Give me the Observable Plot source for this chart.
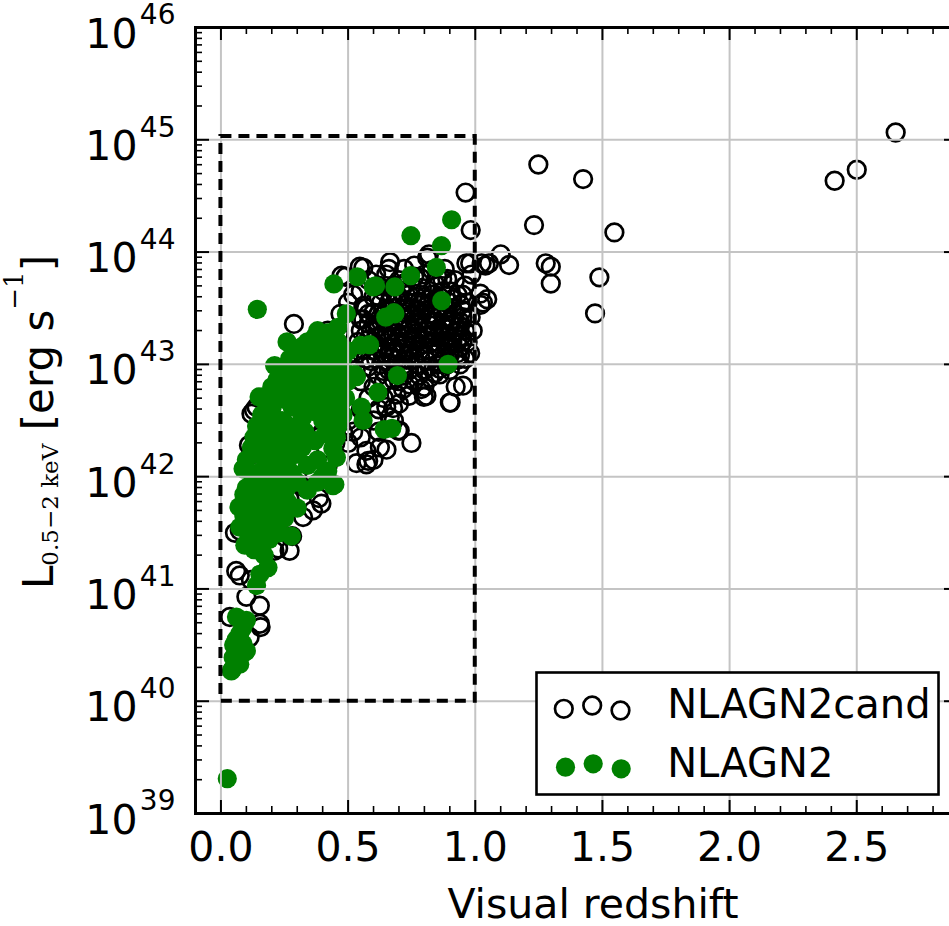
<!DOCTYPE html>
<html><head><meta charset="utf-8">
<script src="https://cdn.jsdelivr.net/npm/d3@7"></script>
<script src="https://cdn.jsdelivr.net/npm/@observablehq/plot@0.6"></script>
<style>body{margin:0;background:#fff;} svg{display:block}</style>
</head><body><div id="chart"></div>
<script>
// [visual redshift, log10 L(0.5-2 keV)]
const nlagn2cand = [
 [1.248,44.78],[1.424,44.65],[1.231,44.24],[1.547,44.175],[2.653,45.065],[2.5,44.733],[2.413,44.635],
 [0.962,44.53],[0.982,44.196],[1.1,43.98],[1.133,43.885],[1.04,43.88],[1.025,43.9],[0.98,43.9],
 [1.277,43.9],[1.297,43.87],[1.297,43.72],[1.488,43.775],[1.471,43.454],[1.02,43.63],[1.03,43.55],[1.054,43.9],
 [0.665,43.91],[0.811,43.95],[0.818,43.98],[0.83,43.84],[0.87,43.76],[0.85,43.79],[0.56,43.86],[0.49,43.78],
 [0.474,43.79],[0.546,43.87],[0.785,43.77],[0.89,43.76],[0.903,43.65],[0.943,43.53],[0.982,43.42],[1.021,43.53],
 [1.047,43.58],[0.965,43.9],[0.96,43.7],[0.93,43.62],[0.985,43.8],
 [0.287,43.36],[0.294,43.12],[0.464,43.28],[0.57,43.5],[0.55,43.4],[0.44,43.2],[0.42,43.3],[0.47,43.45],
 [0.5,43.55],[0.52,43.62],[0.6,43.6],[0.62,43.7],[0.58,43.75],[0.65,43.8],[0.7,43.75],[0.72,43.85],[0.76,43.88],
 [0.55,43.3],[0.58,43.22],[0.6,43.35],[0.62,43.45],[0.64,43.28],[0.66,43.38],[0.68,43.5],[0.7,43.32],[0.72,43.42],
 [0.74,43.55],[0.76,43.4],[0.78,43.48],[0.8,43.6],[0.82,43.45],[0.84,43.38],[0.86,43.52],[0.88,43.42],[0.9,43.32],
 [0.92,43.45],[0.94,43.38],[0.96,43.3],[0.97,43.55],
 [0.57,43.05],[0.6,43.12],[0.63,43.0],[0.65,43.15],[0.67,43.05],[0.69,43.2],[0.71,43.1],[0.73,43.25],[0.75,43.15],
 [0.77,43.28],[0.79,43.18],[0.81,43.3],[0.83,43.2],[0.85,43.1],[0.87,43.25],[0.89,43.15],[0.91,43.2],[0.93,43.1],
 [0.95,43.2],[0.96,43.05],
 [0.62,42.9],[0.66,42.95],[0.7,42.85],[0.74,42.95],[0.78,42.9],[0.82,42.98],[0.86,43.02],[0.9,42.95],[0.94,43.0],
 [0.76,43.05],[0.72,43.0],[0.8,43.08],[0.88,43.05],
 [0.63,43.55],[0.67,43.62],[0.71,43.65],[0.75,43.7],[0.79,43.68],[0.83,43.62],[0.87,43.65],[0.91,43.58],[0.69,43.58],
 [0.73,43.5],[0.77,43.6],[0.81,43.52],[0.85,43.58],
 [0.52,43.1],[0.54,43.2],[0.56,43.4],[0.58,43.45],[0.5,43.0],[0.53,42.95],[0.55,42.85],
 [0.56,43.52],[0.59,43.3],[0.61,43.18],[0.63,43.38],[0.65,43.48],[0.67,43.3],[0.69,43.42],[0.71,43.55],[0.73,43.35],
 [0.75,43.45],[0.77,43.35],[0.79,43.55],[0.81,43.4],[0.83,43.5],[0.85,43.42],[0.87,43.35],[0.89,43.5],[0.91,43.4],
 [0.93,43.3],[0.95,43.48],
 [0.58,42.98],[0.61,43.05],[0.64,43.1],[0.66,43.22],[0.68,43.12],[0.7,43.25],[0.72,43.18],[0.74,43.08],[0.76,43.22],
 [0.78,43.12],[0.8,43.22],[0.82,43.12],[0.84,43.28],[0.86,43.18],[0.88,43.32],[0.9,43.08],[0.92,43.28],[0.94,43.15],
 [0.6,42.8],[0.64,42.85],[0.68,42.92],[0.72,42.9],[0.76,42.85],[0.8,42.8],[0.84,42.92],[0.65,42.62],[0.7,42.65],
 [0.74,42.72],[0.68,42.5],[0.62,42.4],
 [0.45,43.0],[0.47,43.15],[0.43,42.95],[0.46,42.6],[0.42,42.5],[0.44,42.8],[0.48,42.4],[0.38,42.8],[0.36,42.5],[0.34,42.35],
 [0.55,43.65],[0.61,43.8],[0.64,43.65],[0.68,43.7],[0.72,43.72],[0.76,43.78],[0.8,43.8],[0.84,43.72],[0.88,43.85],
 [0.92,43.75],[0.95,43.62],[0.66,43.85],[0.98,43.1],[0.99,43.3],
 [0.59,43.03],[0.65,43.02],[0.69,43.0],[0.73,43.04],[0.77,43.0],[0.81,43.03],[0.85,43.0],[0.89,43.0],[0.93,43.04],
 [0.56,43.13],[0.62,43.15],[0.66,43.1],[0.7,43.14],[0.74,43.12],[0.78,43.16],[0.82,43.18],[0.86,43.14],[0.9,43.16],[0.94,43.08],
 [0.57,43.26],[0.61,43.24],[0.65,43.26],[0.69,43.28],[0.73,43.2],[0.77,43.24],[0.81,43.26],[0.85,43.24],[0.89,43.25],[0.93,43.22],[0.97,43.2],
 [0.58,43.36],[0.62,43.33],[0.66,43.34],[0.7,43.38],[0.74,43.32],[0.78,43.38],[0.82,43.35],[0.86,43.3],[0.9,43.38],[0.94,43.34],
 [0.6,43.46],[0.64,43.44],[0.67,43.44],[0.71,43.46],[0.75,43.5],[0.79,43.44],[0.83,43.44],[0.87,43.46],[0.91,43.5],[0.95,43.42],
 [0.62,43.6],[0.66,43.55],[0.7,43.6],[0.74,43.62],[0.78,43.56],[0.82,43.58],[0.86,43.6],[0.9,43.55],
 [0.64,42.94],[0.68,42.86],[0.72,42.95],[0.8,42.95],[0.86,42.96],
 [0.952,42.81],[0.9,42.66],[0.808,42.72],[0.788,42.78],[0.749,42.30],[0.703,42.41],[0.651,42.24],[0.579,42.14],
 [0.572,42.23],[0.625,42.26],[0.69,42.73],[0.716,42.78],[0.742,42.82],[0.821,42.88],[0.86,42.91],[0.88,43.21],
 [0.946,43.25],[0.677,42.61],[0.664,42.53],[0.923,42.80],[0.903,42.66],[0.798,42.71],[0.697,42.41],[0.533,42.12],
 [0.6,42.15],[0.572,42.11],[0.6,42.5],[0.62,42.6],[0.58,42.7],[0.64,42.7],[0.55,42.6],[0.52,42.4],[0.5,42.3],
 [0.55,42.35],[0.5,42.5],[0.48,42.7],
 [0.13,42.59],[0.14,42.62],[0.12,42.56],[0.284,42.29],[0.126,42.2],[0.11,42.28],[0.395,41.76],[0.362,41.7],
 [0.323,41.64],[0.27,41.34],[0.225,41.36],[0.21,41.34],[0.074,41.12],[0.06,41.16],[0.1,40.93],[0.153,40.85],
 [0.153,40.69],[0.035,40.75],[0.113,40.57],[0.074,41.52],[0.055,41.5],[0.156,40.66],[0.385,41.81],[0.28,41.47],
 [0.118,41.08],[0.3,42.0],[0.35,42.2],[0.4,42.4],[0.25,42.1],[0.2,41.9],[0.3,42.5],[0.38,42.6],[0.42,42.1],
 [0.45,42.3],[0.22,42.3],[0.18,42.0],[0.33,41.9],[0.27,41.8],[0.15,41.7],[0.4,42.9],[0.35,43.0],[0.3,42.8],
 [0.25,42.7],[0.2,42.5]
];
const nlagn2 = [
 [0.025,39.31],
 [0.907,44.288],[0.747,44.146],[0.867,44.057],[0.847,43.863],[0.746,43.79],[0.536,43.78],[0.444,43.716],
 [0.599,43.69],[0.684,43.69],[0.868,43.567],[0.143,43.49],[0.493,43.45],[0.648,43.42],[0.684,43.45],[0.368,43.24],
 [0.585,43.175],[0.55,43.17],[0.211,42.99],[0.893,43.0],[0.694,42.90],[0.617,42.75],[0.15,42.71],[0.165,42.71],
 [0.218,42.75],[0.672,42.43],[0.552,42.62],[0.559,42.5],[0.533,42.89],[0.642,42.42],[0.526,42.91],[0.454,42.35],
 [0.454,42.17],[0.448,41.93],[0.608,43.70],[0.68,43.46],
 [0.3,43.1],[0.34,43.2],[0.38,43.15],[0.42,43.1],[0.46,43.2],[0.5,43.12],[0.27,43.05],
 [0.24,42.95],[0.28,42.9],[0.32,42.98],[0.36,42.92],[0.4,43.0],[0.44,42.9],[0.48,42.97],[0.5,42.85],
 [0.2,42.8],[0.25,42.75],[0.29,42.8],[0.33,42.7],[0.37,42.78],[0.41,42.72],[0.45,42.8],[0.49,42.7],
 [0.16,42.55],[0.2,42.6],[0.24,42.5],[0.28,42.62],[0.32,42.52],[0.36,42.58],[0.4,42.5],[0.44,42.6],[0.48,42.55],
 [0.13,42.35],[0.17,42.4],[0.21,42.3],[0.25,42.38],[0.29,42.3],[0.33,42.4],[0.37,42.32],[0.41,42.38],
 [0.1,42.15],[0.14,42.2],[0.18,42.1],[0.22,42.18],[0.26,42.12],[0.3,42.2],[0.34,42.1],[0.38,42.15],[0.42,42.05],
 [0.087,42.07],[0.1,41.9],[0.14,41.95],[0.18,41.9],[0.22,41.98],[0.26,41.9],[0.3,41.95],[0.34,41.88],[0.38,41.95],[0.441,41.92],
 [0.071,41.73],[0.1,41.78],[0.14,41.7],[0.18,41.75],[0.22,41.7],[0.26,41.78],[0.3,41.72],
 [0.074,41.55],[0.11,41.6],[0.15,41.52],[0.19,41.58],[0.23,41.5],[0.277,41.47],
 [0.094,41.39],[0.13,41.35],[0.17,41.3],[0.185,41.19],[0.153,41.13],[0.14,41.03],
 [0.32,43.16],[0.36,43.06],[0.4,43.18],[0.44,43.05],[0.48,43.06],[0.26,43.2],[0.38,43.3],[0.42,43.28],[0.46,43.33],
 [0.22,42.86],[0.26,42.84],[0.3,42.86],[0.34,42.84],[0.38,42.86],[0.42,42.84],[0.46,42.88],
 [0.18,42.66],[0.22,42.68],[0.27,42.66],[0.31,42.64],[0.35,42.66],[0.39,42.64],[0.43,42.66],[0.47,42.64],
 [0.14,42.45],[0.18,42.48],[0.22,42.44],[0.26,42.46],[0.3,42.42],[0.42,42.46],[0.46,42.45],
 [0.12,42.26],[0.16,42.28],[0.2,42.24],[0.24,42.26],[0.28,42.24],[0.32,42.26],[0.44,42.25],
 [0.12,42.03],[0.16,42.05],[0.2,42.02],[0.24,42.05],[0.28,42.03],[0.4,42.0],
 [0.09,41.84],[0.12,41.86],[0.16,41.82],[0.2,41.84],[0.24,41.82],
 [0.09,41.65],[0.13,41.62],[0.17,41.65],[0.21,41.62],[0.25,41.63],
 [0.11,41.45],[0.15,41.42],[0.19,41.44],
 [0.061,40.75],[0.1,40.72],[0.074,40.6],[0.087,40.51],[0.048,40.39],[0.041,40.27],[0.1,40.45],[0.074,40.33],
 [0.047,40.29],[0.097,40.44],[0.06,40.55],[0.085,40.65],[0.05,40.5]
];
const seriesNames = ["NLAGN2cand", "NLAGN2"];
const xMajorTicks = [0, 0.5, 1.0, 1.5, 2.0, 2.5];
const xMinorTicks = d3.range(1, 29).filter(i => i % 5 !== 0).map(i => i / 10);
const yExponents = [39, 40, 41, 42, 43, 44, 45, 46];
const yMajorTicks = yExponents.map(e => 10 ** e);
const yMinorTicks = yExponents.slice(0, -1).flatMap(e => d3.range(2, 10).map(m => m * 10 ** e));
const selBoxZ = [0, 1.0];
const selBoxL = [1e40, 1.07e45];

const FH = 786, FW = 763; // frame size in px
const green = "#008000";
const candOff = [[-394.7, -104.7], [-366.3, -108], [-338, -103]];
const agnOff = [[-393, -46.3], [-365.3, -49.7], [-337.3, -44.7]];

const chart = Plot.plot({
  width: 949, height: 926,
  marginLeft: 195, marginRight: -9, marginTop: 27, marginBottom: 113,
  x: {domain: [-0.1, 2.9]},
  y: {type: "log", domain: [1e39, 1e46], axis: null},
  style: {fontFamily: "DejaVu Sans", background: "white", color: "black"},
  marks: [
    Plot.dot(nlagn2cand, {x: d => d[0], y: d => 10 ** d[1], r: 8.8, stroke: "black", strokeWidth: 2.7, fill: "none"}),
    Plot.dot(nlagn2, {x: d => d[0], y: d => 10 ** d[1], r: 9.6, fill: green, stroke: "none"}),
    Plot.ruleX(xMajorTicks, {stroke: "#c4c4c4", strokeWidth: 2}),
    Plot.ruleY(yMajorTicks.slice(1, -1), {stroke: "#c4c4c4", strokeWidth: 2}),
    Plot.rect([0], {x1: () => selBoxZ[0], x2: () => selBoxZ[1], y1: () => selBoxL[0], y2: () => selBoxL[1],
      fill: "none", stroke: "black", strokeWidth: 4, strokeDasharray: "11,7"}),
    Plot.frame({stroke: "black", strokeWidth: 3}),
    // inward ticks
    Plot.ruleX(xMajorTicks, {insetTop: FH - 13, stroke: "black", strokeWidth: 2}),
    Plot.ruleX(xMajorTicks, {insetBottom: FH - 13, stroke: "black", strokeWidth: 2}),
    Plot.ruleX(xMinorTicks, {insetTop: FH - 7, stroke: "black", strokeWidth: 1.6}),
    Plot.ruleX(xMinorTicks, {insetBottom: FH - 7, stroke: "black", strokeWidth: 1.6}),
    Plot.ruleY(yMajorTicks, {insetRight: FW - 14, stroke: "black", strokeWidth: 2}),
    Plot.ruleY(yMajorTicks, {insetLeft: FW - 14, stroke: "black", strokeWidth: 2}),
    Plot.ruleY(yMinorTicks, {insetRight: FW - 7, stroke: "black", strokeWidth: 1.6}),
    Plot.ruleY(yMinorTicks, {insetLeft: FW - 7, stroke: "black", strokeWidth: 1.6}),
    // tick labels
    Plot.axisX({ticks: xMajorTicks, tickSize: 0, tickPadding: 18, fontSize: 41, tickFormat: d3.format(".1f"), label: null}),
    Plot.text(yMajorTicks, {y: d => d, text: () => "10", frameAnchor: "left", textAnchor: "end", lineAnchor: "middle", dx: -58, dy: 7, fontSize: 41}),
    Plot.text(yMajorTicks, {y: d => d, text: d => String(Math.round(Math.log10(d))), frameAnchor: "left", textAnchor: "end", lineAnchor: "middle", dx: -20, dy: -12, fontSize: 28}),
    // x axis title
    Plot.text(["Visual redshift"], {frameAnchor: "bottom", lineAnchor: "middle", dx: 16, dy: 91, fontSize: 41}),
    // legend
    Plot.frame({fill: "white", stroke: "black", strokeWidth: 2.6, insetLeft: 341, insetRight: 20, insetTop: 645, insetBottom: 19}),
    ...candOff.map(([dx, dy]) => Plot.dot([0], {frameAnchor: "bottom-right", dx, dy, r: 8.8, stroke: "black", strokeWidth: 2.7, fill: "none"})),
    ...agnOff.map(([dx, dy]) => Plot.dot([0], {frameAnchor: "bottom-right", dx, dy, r: 9.6, fill: green})),
    Plot.text([seriesNames[0]], {frameAnchor: "bottom-right", textAnchor: "start", lineAnchor: "middle", dx: -291.3, dy: -108, fontSize: 40}),
    Plot.text([seriesNames[1]], {frameAnchor: "bottom-right", textAnchor: "start", lineAnchor: "middle", dx: -291.3, dy: -49.3, fontSize: 40})
  ]
});
document.getElementById("chart").append(chart);

// y-axis title with subscript / superscript
const svg = d3.select(chart.tagName.toLowerCase() === "svg" ? chart : chart.querySelector("svg"));
const t = svg.append("text")
  .attr("transform", "translate(53,422) rotate(-90)")
  .attr("text-anchor", "middle")
  .attr("font-family", "DejaVu Sans")
  .attr("font-size", 42)
  .attr("fill", "black");
t.append("tspan").text("L");
t.append("tspan").attr("font-family", "DejaVu Serif").attr("font-size", 23).attr("dy", 5).text("0.5\u22122 keV");
t.append("tspan").attr("dy", -5).text(" [erg s");
t.append("tspan").attr("font-family", "DejaVu Serif").attr("font-size", 26).attr("dy", -30).text("\u22121");
t.append("tspan").attr("dy", 30).text("]");
</script>
</body></html>
